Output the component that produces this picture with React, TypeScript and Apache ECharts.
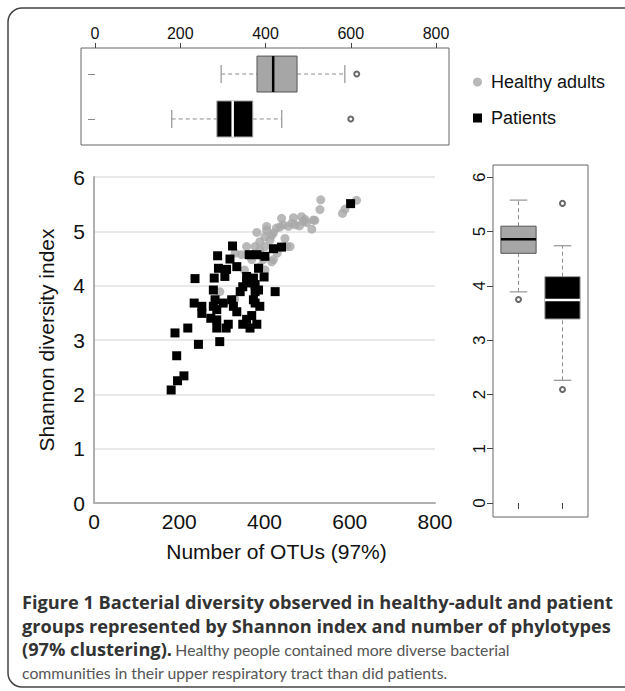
import React, { useEffect, useRef } from "react";
import * as echarts from "echarts";

// ---------- data ----------
const otuTicks = [0, 200, 400, 600, 800];
const shannonTicks = [0, 1, 2, 3, 4, 5, 6];
const groupNames = ["Healthy adults", "Patients"];

const healthyOtus = [616, 583, 589, 532, 530, 511, 515, 499, 487, 491, 472, 482, 464, 456, 440, 444, 428, 421, 405, 401, 413, 448, 452, 417, 401, 382, 358, 346, 370, 389, 405, 417, 389, 397, 353, 295, 421, 460, 468, 495, 518, 331, 378, 401, 436, 389, 330, 430, 365];
const healthyShannon = [5.57, 5.33, 5.41, 5.58, 5.40, 5.04, 5.21, 5.16, 5.27, 5.18, 5.12, 5.10, 5.15, 5.09, 5.24, 5.12, 5.06, 4.97, 5.09, 4.90, 4.84, 4.87, 4.72, 4.44, 4.29, 4.98, 4.72, 4.57, 4.48, 4.81, 5.02, 4.93, 4.66, 4.48, 4.29, 3.89, 4.48, 4.72, 5.25, 5.22, 5.20, 4.60, 4.72, 4.72, 5.08, 4.35, 3.75, 4.60, 4.55];

const patientOtus = [181, 196, 211, 194, 190, 220, 245, 295, 237, 235, 253, 253, 274, 288, 310, 315, 288, 284, 303, 288, 280, 282, 292, 290, 311, 307, 319, 325, 335, 323, 327, 335, 343, 349, 349, 358, 366, 370, 382, 358, 364, 382, 374, 378, 386, 399, 401, 425, 421, 440, 378, 389, 374, 378, 386, 602, 358, 280];
const patientShannon = [2.08, 2.25, 2.34, 2.71, 3.13, 3.22, 2.92, 2.97, 4.13, 3.68, 3.62, 3.49, 3.40, 3.22, 3.22, 3.29, 3.37, 3.74, 3.68, 3.56, 3.92, 4.14, 4.32, 4.55, 4.30, 4.17, 4.49, 4.73, 4.35, 3.74, 3.62, 3.52, 3.89, 3.98, 3.29, 3.38, 3.22, 3.45, 3.29, 4.17, 4.57, 4.57, 4.14, 3.89, 4.32, 4.16, 4.54, 3.89, 4.68, 4.71, 3.68, 3.62, 3.74, 4.02, 3.92, 5.51, 4.05, 3.62];

// box statistics: [lower whisker, Q1, median, Q3, upper whisker]
const healthyOtuBox = [296, 380, 418, 474, 586];
const patientOtuBox = [180, 286, 323, 370, 438];
const healthyOtuOutliers = [614];
const patientOtuOutliers = [600];
const healthyShannonBox = [3.89, 4.6, 4.86, 5.1, 5.58];
const patientShannonBox = [2.26, 3.39, 3.74, 4.17, 4.74];
const healthyShannonOutliers = [3.75];
const patientShannonOutliers = [5.52, 2.09];

const captionLines = [
  "{b|Figure 1 Bacterial diversity observed in healthy-adult and patient}",
  "{b|groups represented by Shannon index and number of phylotypes}",
  "{b|(97% clustering).} {r|Healthy people contained more diverse bacterial}",
  "{r|communities in their upper respiratory tract than did patients.}",
];

// ---------- styling ----------
const FONT = "Liberation Sans, Arial, Helvetica, sans-serif";
const boxStyles = [
  { fill: "#a6a6a6", border: "#555555", median: "#000000" },
  { fill: "#000000", border: "#9a9a9a", median: "#ffffff" },
];
const boxHalf = 0.4;
const stapleHalf = 0.2;

const renderBox = (horizontal: boolean) => (params: any, api: any) => {
  const pos = api.value(0);
  const low = api.value(1);
  const q1 = api.value(2);
  const med = api.value(3);
  const q3 = api.value(4);
  const high = api.value(5);
  const st = boxStyles[api.value(6)];
  const P = (v: number, off: number) =>
    horizontal ? api.coord([v, pos + off]) : api.coord([pos + off, v]);
  const line = (p1: number[], p2: number[], style: any) => ({
    type: "line",
    shape: { x1: p1[0], y1: p1[1], x2: p2[0], y2: p2[1] },
    style,
  });
  const whisker = { stroke: "#8c8c8c", lineWidth: 1, lineDash: [4, 3] };
  const staple = { stroke: "#9c9c9c", lineWidth: 1.3 };
  const a = P(q1, -boxHalf);
  const b = P(q3, boxHalf);
  return {
    type: "group",
    children: [
      line(P(low, 0), P(q1, 0), whisker),
      line(P(q3, 0), P(high, 0), whisker),
      line(P(low, -stapleHalf), P(low, stapleHalf), staple),
      line(P(high, -stapleHalf), P(high, stapleHalf), staple),
      {
        type: "rect",
        shape: {
          x: Math.min(a[0], b[0]),
          y: Math.min(a[1], b[1]),
          width: Math.abs(b[0] - a[0]),
          height: Math.abs(b[1] - a[1]),
        },
        style: { fill: st.fill, stroke: st.border, lineWidth: 1 },
      },
      line(P(med, -boxHalf), P(med, boxHalf), { stroke: st.median, lineWidth: 2.5 }),
    ],
  };
};

export default function App() {
  const ref = useRef<HTMLDivElement>(null);

  useEffect(() => {
    if (!ref.current) return;
    const chart = echarts.init(ref.current, undefined, { renderer: "svg" });

    const healthyPts = healthyOtus.map((x, i) => [x, healthyShannon[i]]);
    const patientPts = patientOtus.map((x, i) => [x, patientShannon[i]]);

    const topBoxData = [
      [2, ...healthyOtuBox, 0],
      [1, ...patientOtuBox, 1],
    ];
    const rightBoxData = [
      [1, ...healthyShannonBox, 0],
      [2, ...patientShannonBox, 1],
    ];
    const topOutliers = [
      ...healthyOtuOutliers.map((v) => [v, 2]),
      ...patientOtuOutliers.map((v) => [v, 1]),
    ];
    const rightOutliers = [
      ...healthyShannonOutliers.map((v) => [1, v]),
      ...patientShannonOutliers.map((v) => [2, v]),
    ];

    const option: any = {
      animation: false,
      backgroundColor: "#ffffff",
      textStyle: { fontFamily: FONT, color: "#111" },
      legend: {
        orient: "vertical",
        left: 468,
        top: 68,
        itemWidth: 9,
        itemHeight: 9,
        itemGap: 18,
        selectedMode: false,
        data: [
          { name: groupNames[0], icon: "circle" },
          { name: groupNames[1], icon: "rect" },
        ],
        textStyle: { fontSize: 18, color: "#111", fontFamily: FONT, padding: [0, 0, 0, 4] },
      },
      grid: [
        { left: 81, top: 48, width: 368, height: 97, show: true, borderColor: "#666", borderWidth: 1, backgroundColor: "transparent" },
        { left: 94, top: 177, width: 341, height: 326 },
        { left: 493, top: 165, width: 95, height: 352, show: true, borderColor: "#666", borderWidth: 1, backgroundColor: "transparent" },
      ],
      xAxis: [
        {
          gridIndex: 0,
          type: "value",
          position: "top",
          min: -32.8,
          max: 830.4,
          axisLine: { show: false },
          axisTick: { show: true, customValues: otuTicks, length: 5, lineStyle: { color: "#444" } },
          axisLabel: { customValues: otuTicks, fontSize: 16, margin: 7, color: "#111" },
          splitLine: { show: false },
        },
        {
          gridIndex: 1,
          type: "value",
          min: 0,
          max: 800,
          interval: 200,
          name: "Number of OTUs (97%)",
          nameLocation: "middle",
          nameGap: 38,
          nameTextStyle: { fontSize: 21, color: "#111", padding: [0, 0, 0, 24] },
          axisLine: { show: true, lineStyle: { color: "#b0b0b0", width: 2 } },
          axisTick: { show: false },
          axisLabel: { fontSize: 21, margin: 8, color: "#111" },
          splitLine: { show: false },
        },
        {
          gridIndex: 2,
          type: "value",
          min: 0.42,
          max: 2.58,
          axisLine: { show: false },
          axisTick: { show: true, customValues: [1, 2], length: 6, lineStyle: { color: "#444" } },
          axisLabel: { show: false },
          splitLine: { show: false },
        },
      ],
      yAxis: [
        {
          gridIndex: 0,
          type: "value",
          min: 0.42,
          max: 2.58,
          axisLine: { show: false },
          axisTick: { show: true, customValues: [1, 2], length: 7, lineStyle: { color: "#888" } },
          axisLabel: { show: false },
          splitLine: { show: false },
        },
        {
          gridIndex: 1,
          type: "value",
          min: 0,
          max: 6,
          interval: 1,
          name: "Shannon diversity index",
          nameLocation: "middle",
          nameGap: 37,
          nameTextStyle: { fontSize: 21, color: "#111" },
          axisLine: { show: true, lineStyle: { color: "#b0b0b0", width: 2 } },
          axisTick: { show: false },
          axisLabel: { fontSize: 21, margin: 9, color: "#111" },
          splitLine: { show: true, lineStyle: { color: "#e2e2e2", width: 1.5 } },
        },
        {
          gridIndex: 2,
          type: "value",
          min: -0.258,
          max: 6.227,
          axisLine: { show: false },
          axisTick: { show: true, customValues: shannonTicks, length: 6, lineStyle: { color: "#444" } },
          axisLabel: { customValues: shannonTicks, rotate: 90, fontSize: 17, margin: 5, color: "#111" },
          splitLine: { show: false },
        },
      ],
      series: [
        {
          type: "custom",
          name: "OTU box",
          xAxisIndex: 0,
          yAxisIndex: 0,
          renderItem: renderBox(true),
          data: topBoxData,
          silent: true,
        },
        {
          type: "scatter",
          name: "OTU outliers",
          xAxisIndex: 0,
          yAxisIndex: 0,
          symbol: "emptyCircle",
          symbolSize: 5,
          itemStyle: { color: "#444", borderWidth: 0.8 },
          data: topOutliers,
          silent: true,
        },
        {
          type: "scatter",
          name: groupNames[0],
          xAxisIndex: 1,
          yAxisIndex: 1,
          symbol: "circle",
          symbolSize: 9,
          itemStyle: { color: "#a8a8a8" },
          data: healthyPts,
        },
        {
          type: "scatter",
          name: groupNames[1],
          xAxisIndex: 1,
          yAxisIndex: 1,
          symbol: "rect",
          symbolSize: 9,
          itemStyle: { color: "#000000", opacity: 1 },
          data: patientPts,
        },
        {
          type: "custom",
          name: "Shannon box",
          xAxisIndex: 2,
          yAxisIndex: 2,
          renderItem: renderBox(false),
          data: rightBoxData,
          silent: true,
        },
        {
          type: "scatter",
          name: "Shannon outliers",
          xAxisIndex: 2,
          yAxisIndex: 2,
          symbol: "emptyCircle",
          symbolSize: 5,
          itemStyle: { color: "#444", borderWidth: 0.8 },
          data: rightOutliers,
          silent: true,
        },
      ],
      graphic: [
        {
          type: "rect",
          silent: true,
          shape: { x: 8, y: 8, width: 660, height: 679, r: 14 },
          style: { fill: "none", stroke: "#444", lineWidth: 1.5 },
        },
        ...captionLines.map((t, i) => ({
          type: "text",
          left: 22,
          top: 593 + i * 23.7,
          silent: true,
          style: {
            text: t,
            rich: {
              b: { fontFamily: "Open Sans, Noto Sans, sans-serif", fontWeight: "bold", fontSize: 18.2, fill: "#333" },
              r: { fontFamily: "Lato, Open Sans, sans-serif", fontWeight: "normal", fontSize: 15.8, fill: "#555" },
            },
          },
        })),
      ],
    };

    chart.setOption(option);
    return () => chart.dispose();
  }, []);

  return (
    <div
      ref={ref}
      style={{ position: "absolute", left: 0, top: 0, width: 625, height: 691, background: "#fff" }}
    />
  );
}
